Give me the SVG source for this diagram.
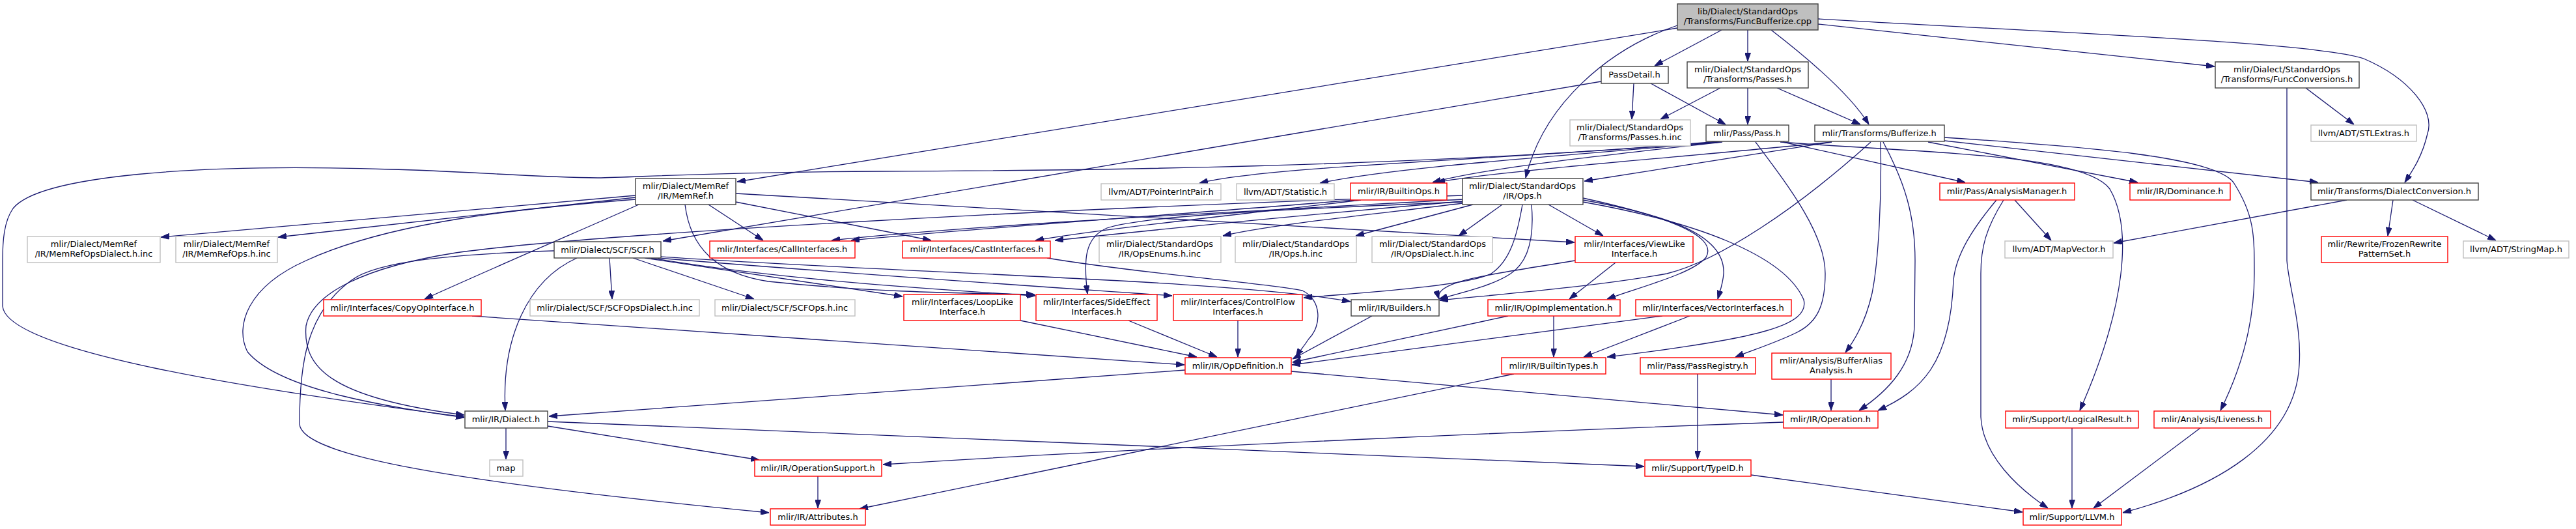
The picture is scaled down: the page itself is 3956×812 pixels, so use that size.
<svg xmlns="http://www.w3.org/2000/svg" width="3956" height="812" viewBox="0 0 3956 812">
<defs>
<marker id="ah" viewBox="0 0 13 9" refX="13" refY="4.5" markerWidth="13" markerHeight="9" markerUnits="userSpaceOnUse" orient="auto">
<path d="M0,0 L13,4.5 L0,9 z" fill="#191970" stroke="#191970" stroke-width="1"/>
</marker>
</defs>
<style>
rect{fill:#fff;stroke-width:1.4}
.n rect{stroke:#404040}
.r rect{stroke:#ff0000}
.g rect{stroke:#bfbfbf}
.m rect{fill:#bfbfbf;stroke:#404040}
text{font-family:"DejaVu Sans","Liberation Sans",sans-serif;font-size:13px;fill:#000;text-anchor:middle}
#edges path{fill:none;stroke:#191970;stroke-width:1.3;marker-end:url(#ah)}
</style>
<rect x="0" y="0" width="3956" height="812" style="fill:#fff;stroke:none"/>
<g id="edges">
<path d="M2644,46 L2541,101"/>
<path d="M2684,46 L2684,94"/>
<path d="M2720,46 C2790,100 2845,150 2870,191"/>
<path d="M2576,43 L1132,279"/>
<path d="M2576,39 C2470,75 2370,160 2343,273"/>
<path d="M2792,37 L3401,102"/>
<path d="M2792,29 C3150,50 3560,65 3630,90 C3700,120 3740,170 3728,205 C3720,240 3705,262 3693,280"/>
<path d="M2509,128 L2506,183"/>
<path d="M2535,128 L2650,191"/>
<path d="M2459,125 L1018,370"/>
<path d="M2642,135 L2550,183"/>
<path d="M2684,135 L2684,191"/>
<path d="M2729,135 L2857,191"/>
<path d="M3541,135 L3615,191"/>
<path d="M3512,135 L3512,400 C3515,440 3535,500 3531,560 C3525,680 3400,750 3260,787"/>
<path d="M2738,218 L3018,280"/>
<path d="M2696,218 C2750,290 2803,360 2803,420 C2803,470 2790,495 2760,510 C2730,525 2690,538 2665,548"/>
<path d="M2734,218 C2950,235 3200,235 3240,290 C3275,350 3265,470 3194,630"/>
<path d="M2642,218 C2400,240 2150,255 2027,281"/>
<path d="M2642,218 C2300,245 1950,255 1842,281"/>
<path d="M2645,218 C2450,240 2280,258 2200,280"/>
<path d="M2640,217 C2200,255 1700,262 1350,263 C1100,264 980,272 918,273 C820,272 700,262 600,260 C300,250 60,270 20,320 C6,340 4,370 4,400 L4,470 C10,540 400,600 713,640"/>
<path d="M2813,218 L2433,278"/>
<path d="M2813,218 C2600,240 2300,262 2206,280"/>
<path d="M2873,218 C2760,320 2640,400 2560,420 C2450,440 2300,452 2211,461"/>
<path d="M2888,218 C2890,300 2885,400 2875,450 C2866,490 2850,520 2834,541"/>
<path d="M2892,218 C2925,280 2941,330 2941,400 L2940,500 C2938,560 2900,600 2855,630"/>
<path d="M2961,218 L3283,280"/>
<path d="M2986,216 L3560,280"/>
<path d="M2986,211 C3200,225 3400,240 3430,280 C3462,330 3462,360 3462,420 C3462,500 3440,570 3410,630"/>
<path d="M2246,312 C2100,330 1950,345 1878,362"/>
<path d="M2262,314 L2082,362"/>
<path d="M2307,314 L2240,362"/>
<path d="M2378,314 L2462,362"/>
<path d="M2246,306 C1900,325 1500,345 1277,369"/>
<path d="M2080,307 C1800,330 1500,350 1307,369"/>
<path d="M2246,309 C2000,330 1800,350 1620,369"/>
<path d="M2090,307 C1900,330 1700,350 1590,369"/>
<path d="M2246,310 C2000,320 1760,330 1700,350 C1665,365 1664,400 1670,451"/>
<path d="M2338,314 C2330,360 2320,400 2290,420 C2250,440 2080,450 2002,457"/>
<path d="M2352,314 C2356,360 2350,400 2320,420 C2290,440 2240,450 2210,459"/>
<path d="M2431,304 C2550,330 2640,360 2620,395 C2600,420 2520,440 2468,459"/>
<path d="M2431,307 C2560,330 2650,360 2647,420 C2646,435 2642,445 2638,459"/>
<path d="M2431,310 C2600,340 2740,390 2770,460 C2780,500 2700,520 2468,548"/>
<path d="M2246,300 C1600,320 900,360 700,388 C560,410 480,450 470,500 C465,560 500,610 713,637"/>
<path d="M851,385 C700,390 580,400 540,430 C470,480 460,560 460,650 C460,700 700,740 1181,787"/>
<path d="M936,396 L940,459"/>
<path d="M972,396 L1158,459"/>
<path d="M886,396 C810,430 770,520 776,630"/>
<path d="M990,396 L1386,455"/>
<path d="M1000,396 C1200,430 1450,445 1590,454"/>
<path d="M1010,396 C1300,420 1600,440 1800,454"/>
<path d="M1015,394 C1400,420 1900,430 2074,463"/>
<path d="M976,300 L247,364"/>
<path d="M976,303 L427,364"/>
<path d="M981,314 C900,350 760,410 652,459"/>
<path d="M1088,314 L1172,369"/>
<path d="M1130,310 L1430,369"/>
<path d="M1130,297 L2418,372"/>
<path d="M976,306 C800,320 600,340 470,400 C380,440 360,500 380,540 C430,600 600,625 713,641"/>
<path d="M1052,314 C1060,380 1100,420 1180,432 C1350,450 1500,450 1589,452"/>
<path d="M725,485 L1819,560"/>
<path d="M1608,396 C1750,420 1950,435 2000,446 C2030,460 2030,500 2010,520 C2000,535 1995,540 1990,548"/>
<path d="M1567,492 L1838,548"/>
<path d="M1733,492 L1869,548"/>
<path d="M1901,492 L1901,548"/>
<path d="M2107,485 L1985,551"/>
<path d="M2316,485 L1985,556"/>
<path d="M2553,485 L1984,560"/>
<path d="M2419,400 C2300,420 2200,430 2210,459"/>
<path d="M2481,403 L2410,459"/>
<path d="M2386,485 L2386,548"/>
<path d="M2595,485 L2432,548"/>
<path d="M2325,574 L1320,781"/>
<path d="M1820,568 L843,639"/>
<path d="M1983,570 L2738,637"/>
<path d="M777,657 L777,705"/>
<path d="M841,654 L1166,706"/>
<path d="M841,647 L2525,716"/>
<path d="M2739,648 C2400,660 1800,685 1356,713"/>
<path d="M1256,731 L1256,780"/>
<path d="M2607,574 L2607,705"/>
<path d="M2689,729 L3106,786"/>
<path d="M3182,657 L3182,780"/>
<path d="M3379,657 L3215,780"/>
<path d="M3077,307 C3050,350 3042,380 3042,420 L3042,640 C3045,700 3100,750 3145,780"/>
<path d="M3066,307 C3030,350 3004,390 3000,430 C2995,560 2950,600 2884,630"/>
<path d="M3094,307 L3150,369"/>
<path d="M3675,307 L3667,362"/>
<path d="M3705,307 L3833,369"/>
<path d="M3604,307 L3246,373"/>
<path d="M2812,582 L2812,630"/>
</g>
<g id="n_main" class="m"><rect x="2576" y="6" width="216" height="40"/><text x="2684" y="22">lib/Dialect/StandardOps</text><text x="2684" y="37">/Transforms/FuncBufferize.cpp</text></g>
<g id="n_passdetail" class="n"><rect x="2459" y="102" width="103" height="26"/><text x="2510" y="119">PassDetail.h</text></g>
<g id="n_sopasses" class="n"><rect x="2591" y="95" width="186" height="40"/><text x="2684" y="111">mlir/Dialect/StandardOps</text><text x="2684" y="126">/Transforms/Passes.h</text></g>
<g id="n_funcconv" class="n"><rect x="3402" y="95" width="221" height="40"/><text x="3512" y="111">mlir/Dialect/StandardOps</text><text x="3512" y="126">/Transforms/FuncConversions.h</text></g>
<g id="n_passesinc" class="g"><rect x="2411" y="184" width="185" height="40"/><text x="2503" y="200">mlir/Dialect/StandardOps</text><text x="2503" y="215">/Transforms/Passes.h.inc</text></g>
<g id="n_pass" class="n"><rect x="2620" y="192" width="127" height="25"/><text x="2683" y="209">mlir/Pass/Pass.h</text></g>
<g id="n_bufferize" class="n"><rect x="2787" y="192" width="199" height="25"/><text x="2886" y="209">mlir/Transforms/Bufferize.h</text></g>
<g id="n_stlextras" class="g"><rect x="3549" y="192" width="162" height="25"/><text x="3630" y="209">llvm/ADT/STLExtras.h</text></g>
<g id="n_memref" class="n"><rect x="976" y="274" width="154" height="40"/><text x="1053" y="290">mlir/Dialect/MemRef</text><text x="1053" y="305">/IR/MemRef.h</text></g>
<g id="n_pointerintpair" class="g"><rect x="1691" y="282" width="184" height="25"/><text x="1783" y="299">llvm/ADT/PointerIntPair.h</text></g>
<g id="n_statistic" class="g"><rect x="1899" y="282" width="150" height="25"/><text x="1974" y="299">llvm/ADT/Statistic.h</text></g>
<g id="n_builtinops" class="r"><rect x="2074" y="281" width="148" height="26"/><text x="2148" y="298">mlir/IR/BuiltinOps.h</text></g>
<g id="n_stdops" class="n"><rect x="2246" y="274" width="185" height="40"/><text x="2338" y="290">mlir/Dialect/StandardOps</text><text x="2338" y="305">/IR/Ops.h</text></g>
<g id="n_analysismgr" class="r"><rect x="2979" y="281" width="207" height="26"/><text x="3082" y="298">mlir/Pass/AnalysisManager.h</text></g>
<g id="n_dominance" class="r"><rect x="3271" y="281" width="154" height="26"/><text x="3348" y="298">mlir/IR/Dominance.h</text></g>
<g id="n_dialectconv" class="n"><rect x="3549" y="281" width="257" height="26"/><text x="3677" y="298">mlir/Transforms/DialectConversion.h</text></g>
<g id="n_memrefopsdialectinc" class="g"><rect x="42" y="363" width="204" height="40"/><text x="144" y="379">mlir/Dialect/MemRef</text><text x="144" y="394">/IR/MemRefOpsDialect.h.inc</text></g>
<g id="n_memrefopsinc" class="g"><rect x="270" y="363" width="156" height="40"/><text x="348" y="379">mlir/Dialect/MemRef</text><text x="348" y="394">/IR/MemRefOps.h.inc</text></g>
<g id="n_scf" class="n"><rect x="851" y="371" width="164" height="25"/><text x="933" y="388">mlir/Dialect/SCF/SCF.h</text></g>
<g id="n_callif" class="r"><rect x="1090" y="370" width="223" height="26"/><text x="1201" y="387">mlir/Interfaces/CallInterfaces.h</text></g>
<g id="n_castif" class="r"><rect x="1386" y="370" width="227" height="26"/><text x="1500" y="387">mlir/Interfaces/CastInterfaces.h</text></g>
<g id="n_opsenumsinc" class="g"><rect x="1688" y="363" width="187" height="40"/><text x="1781" y="379">mlir/Dialect/StandardOps</text><text x="1781" y="394">/IR/OpsEnums.h.inc</text></g>
<g id="n_opsinc" class="g"><rect x="1897" y="363" width="186" height="40"/><text x="1990" y="379">mlir/Dialect/StandardOps</text><text x="1990" y="394">/IR/Ops.h.inc</text></g>
<g id="n_opsdialectinc" class="g"><rect x="2107" y="363" width="185" height="40"/><text x="2200" y="379">mlir/Dialect/StandardOps</text><text x="2200" y="394">/IR/OpsDialect.h.inc</text></g>
<g id="n_viewlike" class="r"><rect x="2419" y="363" width="181" height="40"/><text x="2510" y="379">mlir/Interfaces/ViewLike</text><text x="2510" y="394">Interface.h</text></g>
<g id="n_mapvector" class="g"><rect x="3079" y="370" width="166" height="26"/><text x="3162" y="387">llvm/ADT/MapVector.h</text></g>
<g id="n_frozen" class="r"><rect x="3565" y="363" width="194" height="40"/><text x="3662" y="379">mlir/Rewrite/FrozenRewrite</text><text x="3662" y="394">PatternSet.h</text></g>
<g id="n_stringmap" class="g"><rect x="3783" y="370" width="162" height="26"/><text x="3864" y="387">llvm/ADT/StringMap.h</text></g>
<g id="n_copyop" class="r"><rect x="497" y="460" width="242" height="25"/><text x="618" y="477">mlir/Interfaces/CopyOpInterface.h</text></g>
<g id="n_scfopsdialectinc" class="g"><rect x="814" y="460" width="260" height="25"/><text x="944" y="477">mlir/Dialect/SCF/SCFOpsDialect.h.inc</text></g>
<g id="n_scfopsinc" class="g"><rect x="1098" y="460" width="215" height="25"/><text x="1205" y="477">mlir/Dialect/SCF/SCFOps.h.inc</text></g>
<g id="n_looplike" class="r"><rect x="1388" y="452" width="179" height="40"/><text x="1478" y="468">mlir/Interfaces/LoopLike</text><text x="1478" y="483">Interface.h</text></g>
<g id="n_sideeffect" class="r"><rect x="1591" y="452" width="186" height="40"/><text x="1684" y="468">mlir/Interfaces/SideEffect</text><text x="1684" y="483">Interfaces.h</text></g>
<g id="n_controlflow" class="r"><rect x="1802" y="452" width="198" height="40"/><text x="1901" y="468">mlir/Interfaces/ControlFlow</text><text x="1901" y="483">Interfaces.h</text></g>
<g id="n_builders" class="n"><rect x="2075" y="460" width="135" height="25"/><text x="2142" y="477">mlir/IR/Builders.h</text></g>
<g id="n_opimpl" class="r"><rect x="2285" y="460" width="203" height="25"/><text x="2386" y="477">mlir/IR/OpImplementation.h</text></g>
<g id="n_vectorif" class="r"><rect x="2512" y="460" width="239" height="25"/><text x="2631" y="477">mlir/Interfaces/VectorInterfaces.h</text></g>
<g id="n_opdef" class="r"><rect x="1820" y="549" width="163" height="25"/><text x="1901" y="566">mlir/IR/OpDefinition.h</text></g>
<g id="n_builtintypes" class="r"><rect x="2306" y="549" width="160" height="25"/><text x="2386" y="566">mlir/IR/BuiltinTypes.h</text></g>
<g id="n_passregistry" class="r"><rect x="2519" y="549" width="177" height="25"/><text x="2607" y="566">mlir/Pass/PassRegistry.h</text></g>
<g id="n_bufferalias" class="r"><rect x="2721" y="542" width="183" height="40"/><text x="2812" y="558">mlir/Analysis/BufferAlias</text><text x="2812" y="573">Analysis.h</text></g>
<g id="n_dialect" class="n"><rect x="714" y="631" width="127" height="26"/><text x="777" y="648">mlir/IR/Dialect.h</text></g>
<g id="n_operation" class="r"><rect x="2739" y="631" width="145" height="26"/><text x="2811" y="648">mlir/IR/Operation.h</text></g>
<g id="n_logicalresult" class="r"><rect x="3080" y="631" width="204" height="26"/><text x="3182" y="648">mlir/Support/LogicalResult.h</text></g>
<g id="n_liveness" class="r"><rect x="3308" y="631" width="179" height="26"/><text x="3397" y="648">mlir/Analysis/Liveness.h</text></g>
<g id="n_map" class="g"><rect x="752" y="706" width="51" height="25"/><text x="777" y="723">map</text></g>
<g id="n_opsupport" class="r"><rect x="1159" y="706" width="195" height="25"/><text x="1256" y="723">mlir/IR/OperationSupport.h</text></g>
<g id="n_typeid" class="r"><rect x="2526" y="706" width="163" height="25"/><text x="2607" y="723">mlir/Support/TypeID.h</text></g>
<g id="n_attributes" class="r"><rect x="1183" y="781" width="146" height="25"/><text x="1256" y="798">mlir/IR/Attributes.h</text></g>
<g id="n_llvm" class="r"><rect x="3107" y="781" width="151" height="25"/><text x="3182" y="798">mlir/Support/LLVM.h</text></g>
</svg>
